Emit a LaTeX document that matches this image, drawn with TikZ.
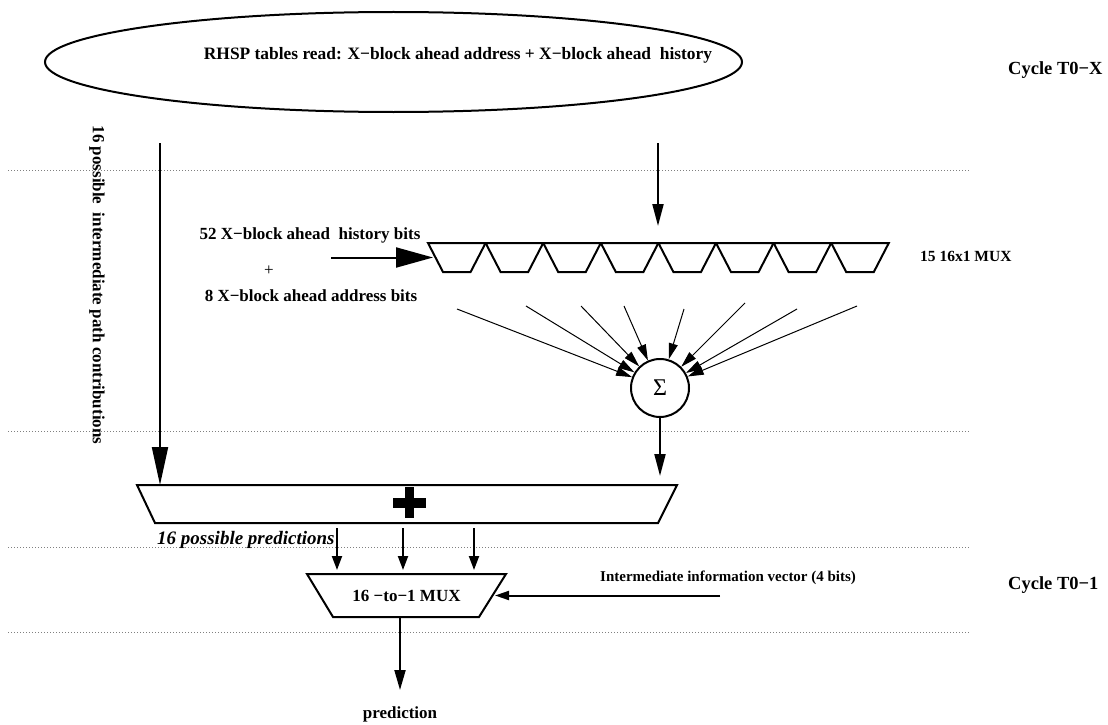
\documentclass[tikz,border=0pt]{standalone}
\usepackage{fontspec}
\setmainfont{Liberation Serif}
\usetikzlibrary{positioning}
\usetikzlibrary{arrows.meta}
\usetikzlibrary{shapes.geometric}
\tikzset{sep/.style = {gray, dotted, line width=1}}
\tikzset{cell/.style = {rectangle, inner sep=0, outer sep=0}}
\tikzset{outline/.style = {line width=2}}
\tikzset{lbl/.style = {font=\fontsize{17}{20}\selectfont\bfseries, inner sep=0}}
\tikzset{cyc/.style = {font=\fontsize{18.5}{22}\selectfont\bfseries, inner sep=0, anchor=west}}
\tikzset{big/.style = {-{Triangle[length=38pt,width=16pt]}, line width=2}}
\tikzset{mid/.style = {-{Triangle[length=22pt,width=11pt]}, line width=2}}
\tikzset{small/.style = {-{Triangle[length=14pt,width=10pt]}, line width=2}}
\tikzset{fine/.style = {-{Triangle[length=16pt,width=9pt]}, line width=1}}
\tikzset{every picture/.style={x=1pt, y=-1pt}}

\begin{document}
\begin{tikzpicture}
      \useasboundingbox (0,0) rectangle (1108,725);
      \foreach \y in {170,431,547,632}
        \draw[sep] (8,\y) -- (970,\y);
      \node[draw, ellipse, line width=2, minimum width=697, minimum height=100, inner sep=0] (rhsp) at (393.5,62) {};
      \node[lbl, font=\fontsize{17.4}{20}\selectfont\bfseries] (rhsptxt) at (458,55) {RHSP tables read: X−block ahead address + X−block ahead\ \ history};
      \node[cyc] (cycx) at (1008,70) {Cycle T0−X};
      \node[cyc] (cyc1) at (1008,585) {Cycle T0−1};
      \node[lbl, rotate=-90] (contrib) at (97,285) {16 possible\ \ intermediate path contributions};
      \foreach \i in {0,...,7} {
        \node[cell, minimum width=57.6, minimum height=29] (m\i) at (456.8+57.6*\i,257.5) {};
        \draw[outline] (m\i.north west) -- (m\i.north east) -- ([xshift=-15pt]m\i.south east) -- ([xshift=15pt]m\i.south west) -- cycle;
      }
      \node[lbl, font=\fontsize{15.5}{18}\selectfont\bfseries, anchor=west] (muxrow) at (920,256) {15 16x1 MUX};
      \node[lbl] (hist) at (310,235) {52 X−block ahead\ \ history bits};
      \node[lbl, font=\fontsize{17}{20}\selectfont] (and) at (269,271) {+};
      \node[lbl] (addr) at (311,296) {8 X−block ahead address bits};
      \coordinate (hin) at (331,257.5);
      \draw[big, -{Triangle[length=37pt,width=20pt]}, shorten >=-5pt] (hin) -- (m0.west);
      \coordinate (rsrc) at (658,143);
      \draw[mid, shorten >=17pt] (rsrc) -- (rsrc |- m3.north);
      \node[draw, circle, line width=2, minimum size=58, inner sep=0, font=\fontsize{24}{26}\selectfont] (sum) at (660,388) {Σ};
      \foreach \x/\y [count=\k] in {457/309,526/306,581/306,624/306,684/309,745/303,797/309,857/306} {
        \coordinate (in\k) at (\x,\y);
        \draw[fine] (in\k) -- (sum);
      }
      \node[cell, minimum width=540, minimum height=38] (adder) at (407,504) {};
      \draw[outline] (adder.north west) -- (adder.north east) -- ([xshift=-19pt]adder.south east) -- ([xshift=18pt]adder.south west) -- cycle;
      \fill (393,497.5) rectangle (426,507.5);
      \fill (405,487) rectangle (414,518);
      \coordinate (lsrc) at (160,143);
      \draw[big] (lsrc) -- (lsrc |- adder.north);
      \draw[mid, shorten >=9pt] (sum) -- (sum |- adder.north);
      \node[lbl, font=\fontsize{19}{22}\selectfont\bfseries\itshape, anchor=west] (preds) at (157,540) {16 possible predictions};
      \node[cell, lbl, minimum width=199, minimum height=43] (mux16) at (406.5,595.5) {16 −to−1 MUX};
      \draw[outline] (mux16.north west) -- (mux16.north east) -- ([xshift=-27pt]mux16.south east) -- ([xshift=26pt]mux16.south west) -- cycle;
      \foreach \x in {337,403,474}
        \draw[small, shorten <=5pt, shorten >=4pt] (adder.south -| \x,0) -- (mux16.north -| \x,0);
      \node[lbl, font=\fontsize{15}{18}\selectfont\bfseries, anchor=west] (ivtxt) at (600,578) {Intermediate information vector (4 bits)};
      \coordinate (ivsrc) at (720,595.5);
      \draw[small, -{Triangle[length=14pt,width=9pt]}, shorten >=-11pt] (ivsrc) -- (mux16.east);
      \coordinate (predtip) at (400,690);
      \draw[mid, -{Triangle[length=20pt,width=11pt]}] (predtip |- mux16.south) -- (predtip);
      \node[lbl] (pred) at (400,714) {prediction};
\end{tikzpicture}
\end{document}
